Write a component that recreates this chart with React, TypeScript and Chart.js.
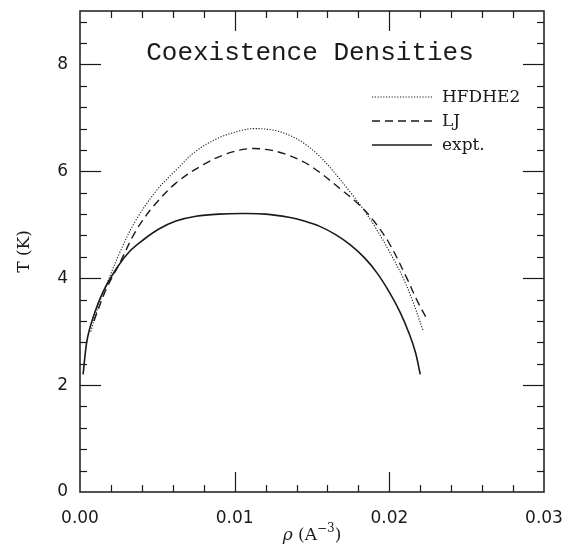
import React, { useEffect, useRef } from "react";
import { Chart, registerables } from "chart.js";

Chart.register(...registerables);

// ---- data (density in A^-3, temperature in K) ----
const hfdheRho = [0.0007, 0.0012, 0.0017, 0.0026, 0.0036, 0.005, 0.0062, 0.0075, 0.009, 0.0105, 0.0113, 0.0125, 0.0135, 0.0145, 0.0155, 0.0165, 0.0175, 0.0183, 0.0191, 0.02, 0.0209, 0.0216, 0.0222];
const hfdheT = [3.0, 3.5, 3.87, 4.5, 5.08, 5.66, 6.02, 6.38, 6.63, 6.77, 6.8, 6.77, 6.68, 6.52, 6.28, 5.96, 5.6, 5.3, 4.95, 4.5, 4.0, 3.5, 3.0];

const ljRho = [0.0009, 0.0017, 0.0026, 0.0036, 0.0047, 0.0062, 0.008, 0.0095, 0.0108, 0.012, 0.0132, 0.0145, 0.0155, 0.0168, 0.0181, 0.019, 0.02, 0.0211, 0.0218, 0.0225];
const ljT = [3.2, 3.8, 4.3, 4.88, 5.33, 5.78, 6.13, 6.33, 6.42, 6.41, 6.33, 6.17, 5.98, 5.68, 5.36, 5.07, 4.65, 4.02, 3.58, 3.2];

const exptRho = [0.0002, 0.00045, 0.00084, 0.0015, 0.0024, 0.0032, 0.0041, 0.0051, 0.0062, 0.0075, 0.009, 0.0105, 0.012, 0.0135, 0.0145, 0.0155, 0.0165, 0.0175, 0.0184, 0.0192, 0.02, 0.0207, 0.0213, 0.0217, 0.022];
const exptT = [2.2, 2.83, 3.26, 3.75, 4.2, 4.5, 4.72, 4.92, 5.07, 5.16, 5.2, 5.21, 5.2, 5.14, 5.07, 4.97, 4.82, 4.62, 4.38, 4.1, 3.74, 3.36, 2.95, 2.6, 2.2];

const seriesLabels = ["HFDHE2", "LJ", "expt."];
const xTicks = [0, 0.01, 0.02, 0.03];
const yTicks = [0, 2, 4, 6, 8];
const xMinorStep = 0.002;
const yMinorStep = 0.4;
const xMin = 0, xMax = 0.03, yMin = 0, yMax = 9;
const chartTitle = "Coexistence Densities";
const yTitle = "T (K)";

const ink = "#1a1a1a";

const pts = (xs: number[], ys: number[]) => xs.map((v, i) => ({ x: v, y: ys[i] }));

const decorPlugin = {
  id: "decor",
  afterDatasetsDraw(chart: any) {
    const { ctx, chartArea, scales } = chart;
    const { left, right, top, bottom } = chartArea;
    const xs = scales.x, ys = scales.y;
    ctx.save();
    ctx.strokeStyle = ink;
    ctx.lineWidth = 1.5;
    ctx.setLineDash([]);
    ctx.strokeRect(left, top, right - left, bottom - top);
    ctx.lineWidth = 1.2;
    const seg = (x1: number, y1: number, x2: number, y2: number) => {
      ctx.beginPath();
      ctx.moveTo(x1, y1);
      ctx.lineTo(x2, y2);
      ctx.stroke();
    };
    // x ticks (bottom & top, inward)
    const nx = Math.round((xMax - xMin) / xMinorStep);
    for (let i = 1; i < nx; i++) {
      const v = xMin + i * xMinorStep;
      const major = xTicks.some((t) => Math.abs(t - v) < 1e-9);
      const len = major ? 20 : 7;
      const px = Math.round(xs.getPixelForValue(v)) + 0.5;
      seg(px, bottom, px, bottom - len);
      seg(px, top, px, top + len);
    }
    const ny = Math.round((yMax - yMin) / yMinorStep);
    for (let i = 1; i <= ny; i++) {
      const v = yMin + i * yMinorStep;
      if (v >= yMax - 1e-9) continue;
      const major = yTicks.some((t) => Math.abs(t - v) < 1e-9);
      const len = major ? 21 : 7;
      const py = Math.round(ys.getPixelForValue(v)) + 0.5;
      seg(left, py, left + len, py);
      seg(right, py, right - len, py);
    }

    // title
    ctx.fillStyle = ink;
    ctx.font = "26px 'Liberation Mono'";
    ctx.textAlign = "center";
    ctx.textBaseline = "alphabetic";
    ctx.fillText(chartTitle, 310, 60);

    // legend
    const ds = chart.data.datasets;
    const lx0 = 372, lx1 = 432, tx = 442;
    const baselines = [102, 126, 150];
    ctx.font = "17px 'DejaVu Serif'";
    ctx.textAlign = "left";
    ds.forEach((d: any, i: number) => {
      const by = baselines[i];
      ctx.save();
      ctx.strokeStyle = d.borderColor;
      ctx.lineWidth = d.borderWidth;
      ctx.setLineDash(d.borderDash || []);
      seg(lx0, by - 5, lx1, by - 5);
      ctx.restore();
      ctx.fillText(d.label, tx, by);
    });

    // y axis title
    ctx.save();
    ctx.translate(29, (top + bottom) / 2);
    ctx.rotate(-Math.PI / 2);
    ctx.textAlign = "center";
    ctx.font = "17px 'DejaVu Serif'";
    ctx.fillText(yTitle, 0, 0);
    ctx.restore();

    // x axis title: rho (A^-3)
    const cx = (left + right) / 2;
    const base = 540;
    const p1 = "\u03C1";
    const p2 = " (A";
    const p3 = "\u22123";
    const p4 = ")";
    ctx.textAlign = "left";
    const fI = "italic 17px 'DejaVu Serif'";
    const fN = "17px 'DejaVu Serif'";
    const fS = "12px 'DejaVu Serif'";
    ctx.font = fI; const w1 = ctx.measureText(p1).width;
    ctx.font = fN; const w2 = ctx.measureText(p2).width;
    ctx.font = fS; const w3 = ctx.measureText(p3).width;
    ctx.font = fN; const w4 = ctx.measureText(p4).width;
    let x0 = cx - (w1 + w2 + w3 + w4) / 2;
    ctx.font = fI; ctx.fillText(p1, x0, base); x0 += w1;
    ctx.font = fN; ctx.fillText(p2, x0, base); x0 += w2;
    ctx.font = fS; ctx.fillText(p3, x0, base - 8); x0 += w3;
    ctx.font = fN; ctx.fillText(p4, x0, base);
    ctx.restore();
  },
};

export default function App() {
  const ref = useRef<HTMLCanvasElement | null>(null);
  useEffect(() => {
    if (!ref.current) return;
    const common = { pointRadius: 0, tension: 0.35, fill: false, borderColor: ink };
    const chart = new Chart(ref.current, {
      type: "line",
      data: {
        datasets: [
          { ...common, label: seriesLabels[0], data: pts(hfdheRho, hfdheT), borderWidth: 1.1, borderDash: [1.2, 1.6] },
          { ...common, label: seriesLabels[1], data: pts(ljRho, ljT), borderWidth: 1.4, borderDash: [8, 5] },
          { ...common, label: seriesLabels[2], data: pts(exptRho, exptT), borderWidth: 1.6 },
        ],
      },
      options: {
        animation: false,
        responsive: false,
        layout: { padding: { left: 0, right: 24, top: 11, bottom: 0 } },
        plugins: { legend: { display: false }, title: { display: false }, tooltip: { enabled: false } },
        scales: {
          x: {
            type: "linear",
            min: xMin,
            max: xMax,
            grid: { display: false, drawTicks: false },
            border: { display: false },
            afterBuildTicks: (s: any) => {
              s.ticks = xTicks.map((v) => ({ value: v }));
            },
            afterFit: (s: any) => {
              s.height = 52;
              s.paddingLeft = 0;
              s.paddingRight = 0;
            },
            ticks: {
              padding: 16,
              maxRotation: 0,
              color: ink,
              font: { family: "'DejaVu Sans'", size: 17 },
              callback: (v: any) => Number(v).toFixed(2),
            },
          },
          y: {
            type: "linear",
            min: yMin,
            max: yMax,
            grid: { display: false, drawTicks: false },
            border: { display: false },
            afterBuildTicks: (s: any) => {
              s.ticks = yTicks.map((v) => ({ value: v }));
            },
            afterFit: (s: any) => {
              s.width = 80;
              s.paddingTop = 0;
              s.paddingBottom = 0;
            },
            ticks: {
              padding: 12,
              color: ink,
              font: { family: "'DejaVu Sans'", size: 17 },
              callback: (v: any) => String(v),
            },
          },
        },
      },
      plugins: [decorPlugin],
    } as any);
    return () => chart.destroy();
  }, []);
  return (
    <div style={{ position: "fixed", left: 0, top: 0, width: 568, height: 544, background: "#fff" }}>
      <canvas ref={ref} width={568} height={544} />
    </div>
  );
}
